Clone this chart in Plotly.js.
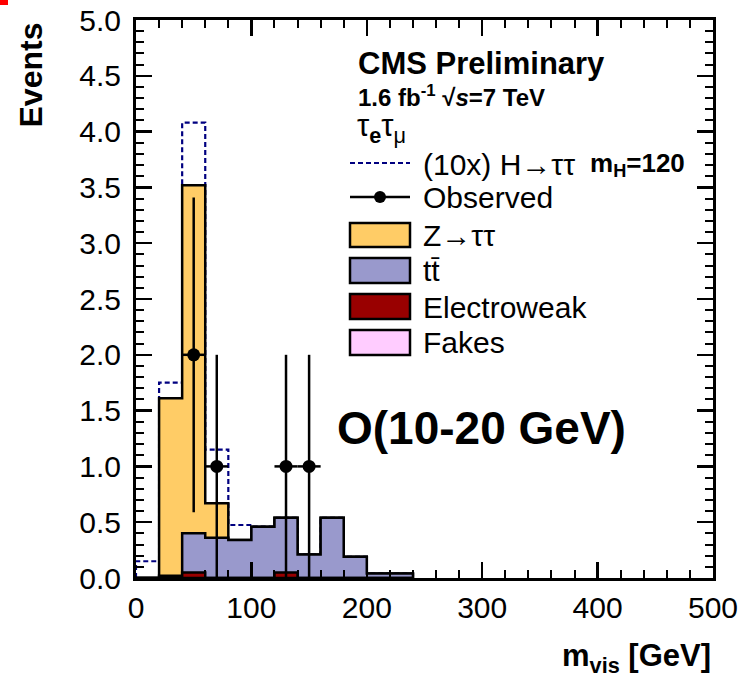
<!DOCTYPE html>
<html>
<head>
<meta charset="utf-8">
<script src="https://cdn.plot.ly/plotly-3.0.1.min.js"></script>
<style>html,body{margin:0;padding:0;background:#fff;}#chart{width:744px;height:677px;}</style>
</head>
<body>
<div id="chart"></div>
<script>
// ---- data (20 GeV bins) ----
const binCenters = [10, 30, 50, 70, 90, 110, 130, 150, 170, 190, 210, 230];
const binWidth = 20;
const fakes   = [0, 0, 0, 0, 0, 0, 0, 0, 0, 0, 0, 0];
const ewk     = [0, 0, 0.05, 0, 0, 0, 0.05, 0, 0, 0, 0, 0];
const ttbar   = [0, 0.02, 0.35, 0.36, 0.34, 0.46, 0.49, 0.21, 0.54, 0.19, 0.04, 0.04];
const ztautau = [0, 1.59, 3.12, 0.31, 0, 0, 0, 0, 0, 0, 0, 0];
const higgs10x = [0.15, 0.14, 0.56, 0.48, 0.135, 0, 0, 0, 0, 0, 0, 0];
const obsX   = [50, 70, 130, 150];
const obsY   = [2, 1, 1, 1];
const obsErr = [1.41, 1, 1, 1];

// ---- helpers ----
function cumulate(list) {
  return binCenters.map((_, i) => list.reduce((s, a) => s + a[i], 0));
}
function stepXY(vals) {
  const x = [binCenters[0] - binWidth / 2], y = [0];
  vals.forEach((v, i) => { x.push(binCenters[i] - binWidth / 2); y.push(v); });
  x.push(binCenters[binCenters.length - 1] + binWidth / 2); y.push(0);
  return {x, y};
}
const cFakes = cumulate([fakes]);
const cEwk = cumulate([fakes, ewk]);
const cTt = cumulate([fakes, ewk, ttbar]);
const cZ = cumulate([fakes, ewk, ttbar, ztautau]);
const cH = cumulate([fakes, ewk, ttbar, ztautau, higgs10x]);

const LW = 2.5;
function fillTrace(vals, color) {
  const s = stepXY(vals);
  return {x: s.x, y: s.y, type: 'scatter', mode: 'lines', line: {shape: 'hv', color: '#000', width: LW},
          fill: 'tozeroy', fillcolor: color, hoverinfo: 'skip', showlegend: false};
}
const sH = stepXY(cH);
const traces = [
  {x: sH.x, y: sH.y, type: 'scatter', mode: 'lines', line: {shape: 'hv', color: '#000080', width: 2.2, dash: '5px,3px'}, showlegend: false},
  fillTrace(cZ, '#FFCC66'),
  fillTrace(cTt, '#9999CC'),
  fillTrace(cEwk, '#990000'),
  fillTrace(cFakes, '#FFCCFF'),
  {x: obsX, y: obsY, type: 'scatter', mode: 'markers', marker: {color: '#000', size: 13},
   error_y: {type: 'data', array: obsErr, symmetric: true, width: 0, thickness: LW, color: '#000'},
   error_x: {type: 'constant', value: binWidth / 2, width: 0, thickness: LW, color: '#000'},
   showlegend: false},
  // invisible trace so the mirrored (top/right) tick axes are drawn
  {x: [null], y: [null], xaxis: 'x2', yaxis: 'y2', type: 'scatter', mode: 'lines', showlegend: false, hoverinfo: 'skip'}
];

// ---- layout ----
const L = 136, R = 713, T = 20, B = 578;
const px = v => (v - L) / (R - L);
const py = v => (B - v) / (B - T);
const F = 'Liberation Sans, Arial, Helvetica, sans-serif';

const annotations = [];
function ann(text, x, y, size, opts) {
  annotations.push(Object.assign({text: text, xref: 'paper', yref: 'paper', x: px(x), y: py(y),
    xanchor: 'left', yanchor: 'middle', showarrow: false, font: {family: F, size: size, color: '#000'}}, opts || {}));
}
ann('<b>CMS Preliminary</b>', 356, 64, 31);
ann('<b>1.6 fb<sup>-1</sup> √<i>s</i>=7 TeV</b>', 356, 96, 24);
ann('τ<sub><b>e</b></sub>τ<sub>μ</sub>', 355, 128, 31);
ann('(10x) H→ττ', 421, 164, 30);
ann('<b>m<sub>H</sub>=120</b>', 588, 164, 26);
ann('Observed', 421, 197, 30);
ann('Z→ττ', 421, 235, 30);
ann('tt̄', 421, 270, 30);
ann('Electroweak', 421, 307, 30);
ann('Fakes', 421, 342, 30);
ann('<b>O(10-20 GeV)</b>', 335, 428, 46);
ann('<b>Events</b>', 31, 21, 32, {xanchor: 'center', yanchor: 'top', textangle: -90});
ann('<b>m<sub>vis</sub> [GeV]</b>', 713, 658, 31, {xanchor: 'right'});

const shapes = [];
function pshape(o) { shapes.push(Object.assign({xref: 'paper', yref: 'paper'}, o)); }
pshape({type: 'line', x0: px(350), x1: px(410), y0: py(163), y1: py(163), line: {color: '#000080', width: 2.2, dash: '5px,3px'}});
pshape({type: 'line', x0: px(350), x1: px(410), y0: py(197), y1: py(197), line: {color: '#000', width: LW}});
pshape({type: 'circle', x0: px(374), x1: px(386), y0: py(191), y1: py(203), fillcolor: '#000', line: {color: '#000', width: 0}});
const boxes = [[223, 247, '#FFCC66'], [258, 283, '#9999CC'], [294, 319, '#990000'], [330, 355, '#FFCCFF']];
boxes.forEach(b => pshape({type: 'rect', x0: px(350), x1: px(410), y0: py(b[1]), y1: py(b[0]), fillcolor: b[2], line: {color: '#000', width: LW}}));
pshape({type: 'rect', x0: px(0), x1: px(8), y0: py(0), y1: py(5), fillcolor: '#ff0000', line: {width: 0}});

const tickCommon = {showgrid: false, zeroline: false, ticks: 'inside', ticklen: 16, tickwidth: 2.5, tickcolor: '#000'};
const axisCommon = Object.assign({}, tickCommon, {showline: true, linecolor: '#000', linewidth: 3, mirror: true,
  tickfont: {family: F, size: 30, color: '#000'}});
const xMinor = {ticks: 'inside', ticklen: 8, tickwidth: 2, dtick: 20, tick0: 0, tickcolor: '#000', showgrid: false};
const yMinor = {ticks: 'inside', ticklen: 8, tickwidth: 2, dtick: 0.1, tick0: 0, tickcolor: '#000', showgrid: false};

const layout = {
  width: 744, height: 677,
  margin: {l: L, r: 744 - R, t: T, b: 677 - B, pad: 0},
  paper_bgcolor: '#fff', plot_bgcolor: '#fff',
  showlegend: false,
  xaxis: Object.assign({}, axisCommon, {range: [0, 500], dtick: 100, tick0: 0, ticklabelstandoff: 1, minor: xMinor}),
  yaxis: Object.assign({}, axisCommon, {range: [0, 5], dtick: 0.5, tick0: 0, tickformat: '.1f', ticklabelstandoff: 6, minor: yMinor}),
  xaxis2: Object.assign({}, tickCommon, {overlaying: 'x', side: 'top', range: [0, 500], dtick: 100, tick0: 0,
    showticklabels: false, showline: false, minor: xMinor}),
  yaxis2: Object.assign({}, tickCommon, {overlaying: 'y', side: 'right', range: [0, 5], dtick: 0.5, tick0: 0,
    showticklabels: false, showline: false, minor: yMinor}),
  annotations: annotations,
  shapes: shapes
};

Plotly.newPlot('chart', traces, layout, {displayModeBar: false, staticPlot: true});
</script>
</body>
</html>
